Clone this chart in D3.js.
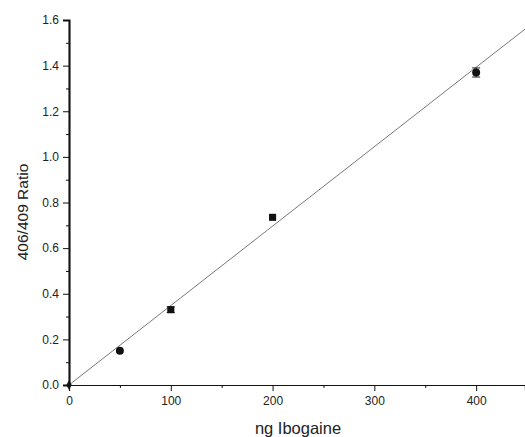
<!DOCTYPE html>
<html>
<head>
<meta charset="utf-8">
<script src="https://cdn.jsdelivr.net/npm/d3@7"></script>
<style>
  body { margin: 0; background: #fff; }
  svg { font-family: "Liberation Sans", Arial, sans-serif; }
</style>
</head>
<body>
<svg class="chart"></svg>
<script>
// data
var amounts = [0, 50, 100, 200, 400];          // ng ibogaine
var ratios  = [0.0, 0.15, 0.33, 0.735, 1.37];  // 406/409 ratio
var errors  = [0.0, 0.0, 0.012, 0.0, 0.02];
var shapes  = ["diamond", "circle", "square", "square", "circle"];
var fitLine = [[0, 0], [448, 1.56]];           // regression line ends
var xTicks  = [0, 100, 200, 300, 400];
var yTicks  = [0, 0.2, 0.4, 0.6, 0.8, 1.0, 1.2, 1.4, 1.6];

var W = 525, H = 437;
var x = d3.scaleLinear().domain([0, 448]).range([69, 525]);
var y = d3.scaleLinear().domain([0, 1.6]).range([385, 20]);

var svg = d3.select(".chart").attr("width", W).attr("height", H);

// axes
var xAxis = svg.append("g")
    .attr("transform", "translate(0," + y(0) + ")")
    .call(d3.axisBottom(x).tickValues(xTicks).tickSize(6).tickPadding(5).tickFormat(d3.format("d")));
var xMinor = svg.append("g")
    .attr("transform", "translate(0," + y(0) + ")")
    .call(d3.axisBottom(x).tickValues([50, 150, 250, 350]).tickSize(3).tickFormat(""));

var yAxis = svg.append("g")
    .attr("transform", "translate(" + x(0) + ",0)")
    .call(d3.axisLeft(y).tickValues(yTicks).tickSize(6).tickPadding(4).tickFormat(d3.format(".1f")));
var yMinor = svg.append("g")
    .attr("transform", "translate(" + x(0) + ",0)")
    .call(d3.axisLeft(y).tickValues(d3.range(8).map(function(i) { return 0.1 + 0.2 * i; })).tickSize(3).tickFormat(""));

[xAxis, xMinor, yAxis, yMinor].forEach(function(g) {
    g.select(".domain").attr("stroke", "#111").attr("stroke-width", 1.2);
    g.selectAll(".tick line").attr("stroke", "#111");
    g.selectAll("text").attr("font-family", "Liberation Sans, Arial, sans-serif")
        .attr("font-size", 12).attr("fill", "#222");
});
yAxis.select(".domain").attr("stroke-width", 2);

// axis titles
svg.append("text")
    .attr("x", 298).attr("y", 434)
    .attr("text-anchor", "middle")
    .attr("font-size", 16.5).attr("fill", "#222")
    .text("ng Ibogaine");

svg.append("text")
    .attr("transform", "translate(28,212) rotate(-90)")
    .attr("text-anchor", "middle")
    .attr("font-size", 15.5).attr("fill", "#222")
    .text("406/409 Ratio");

// fitted line
svg.append("path")
    .datum(fitLine)
    .attr("fill", "none")
    .attr("stroke", "#555")
    .attr("stroke-width", 0.8)
    .attr("d", d3.line().x(function(d) { return x(d[0]); }).y(function(d) { return y(d[1]); }));

// error bars
var pts = amounts.map(function(a, i) { return {a: a, r: ratios[i], e: errors[i], s: shapes[i]}; });
svg.selectAll(".err")
    .data(pts.filter(function(d) { return d.e > 0; }))
    .enter().append("path")
    .attr("class", "err")
    .attr("stroke", "#222").attr("stroke-width", 1).attr("fill", "none")
    .attr("d", function(d) {
        var cx = x(d.a), y0 = y(d.r - d.e), y1 = y(d.r + d.e);
        return "M" + (cx - 4) + "," + y1 + "H" + (cx + 4) +
               "M" + cx + "," + y1 + "V" + y0 +
               "M" + (cx - 4) + "," + y0 + "H" + (cx + 4);
    });

// markers
var symbolType = {circle: d3.symbolCircle, square: d3.symbolSquare, diamond: d3.symbolDiamond};
svg.selectAll(".pt")
    .data(pts)
    .enter().append("path")
    .attr("class", "pt")
    .attr("transform", function(d) { return "translate(" + x(d.a) + "," + y(d.r) + ")"; })
    .attr("d", function(d) { return d3.symbol().type(symbolType[d.s]).size(d.s === "diamond" ? 25 : 50)(); })
    .attr("fill", "#111");
</script>
</body>
</html>
